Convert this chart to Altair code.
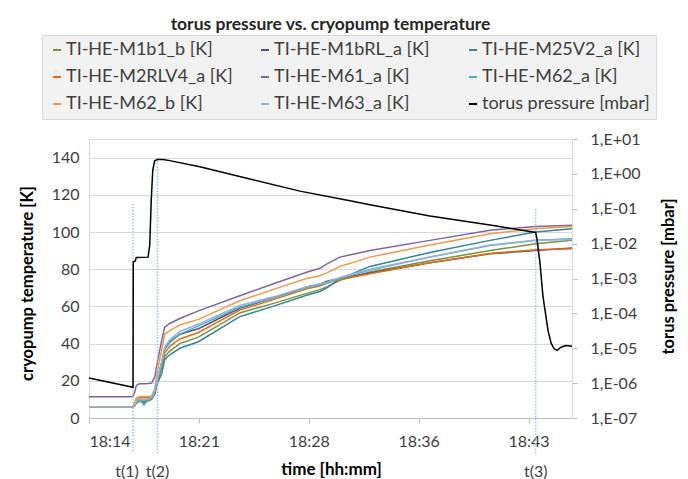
import json
import altair as alt
import pandas as pd

# ---------------- data ----------------
title_text = "torus pressure vs. cryopump temperature"

series_names = ["TI-HE-M1b1_b [K]", "TI-HE-M1bRL_a [K]", "TI-HE-M25V2_a [K]",
                "TI-HE-M2RLV4_a [K]", "TI-HE-M61_a [K]", "TI-HE-M62_a [K]",
                "TI-HE-M62_b [K]", "TI-HE-M63_a [K]", "torus pressure [mbar]"]
series_colors = ["#77933c", "#604a7b", "#31859c", "#e46c0a", "#8064a2",
                 "#4bacc6", "#f79646", "#95b3d7", "#000000"]

# time in minutes after 18:14
t_temp = [0, 2.87, 3.0, 3.1, 3.3, 3.6, 3.85, 4.11, 4.31, 4.50, 4.77, 4.96, 5.29,
          5.95, 7.17, 9.88, 12.04, 14.26, 15.13, 15.59, 16.44, 18.41, 22.34,
          26.28, 29.27, 31.65]

temp_M1b1_b = [6, 6, 6.5, 8, 9, 9, 9, 10, 13, 20, 27, 33, 36, 40, 43.5, 56.5, 61.5,
               67, 69, 70.5, 74, 78.5, 84.5, 90, 93.7, 95.5]
temp_M1bRL_a = [6, 6, 7, 9, 10, 10, 10, 11, 14, 22, 30, 37, 41, 45, 48, 59, 64.5,
                70.5, 72, 73.5, 75, 78, 83.5, 88.3, 90, 91.4]
temp_M25V2_a = [6, 6, 7, 9, 10, 8, 10, 11, 13, 19, 24, 31.5, 34, 37.5, 41, 54.5, 60,
                66, 68, 70, 74.8, 81.5, 89, 95.5, 100, 101.8]
temp_M2RLV4_a = [6, 6, 8, 10.5, 11, 11, 11, 11.5, 14, 21, 28, 35, 38.5, 42.5, 46, 58,
                 63.5, 69.5, 71, 72.5, 74.5, 77.5, 83.5, 88.5, 90.5, 91]
temp_M61_a = [11.4, 11.4, 14, 17.5, 18.4, 18.4, 18.5, 18.8, 22, 31, 42, 48.8, 50.8,
              53.5, 57.6, 65.7, 72, 78.4, 80.5, 82.9, 86.5, 90, 95.5, 100.9, 103, 103.6]
temp_M62_a = [6, 6, 7, 9.5, 10, 7, 9.5, 11, 14, 21, 29, 37, 40.5, 45, 49.5, 59.5,
              64.5, 70, 71.5, 72.5, 75, 79.5, 86.5, 92.8, 95.5, 96.4]
temp_M62_b = [6, 6, 8, 10.5, 11.5, 11.5, 11.5, 11.8, 16, 26, 37, 45, 47, 50, 53, 63,
              69, 75, 76.5, 78, 81.5, 86.5, 93, 99, 101.8, 103]
temp_M63_a = [6, 6, 7, 9, 10, 10, 10, 11.5, 15, 22, 30, 38, 42, 46.5, 50.5, 60.5,
              65, 70.5, 72, 73, 75.5, 80, 86.5, 93, 95.5, 96]

t_press = [0, 2.885, 2.90, 3.03, 3.10, 3.87, 3.98, 4.08, 4.18, 4.31, 4.51, 4.85,
           5.29, 7.26, 10.54, 13.82, 17.10, 18.41, 22.34, 26.28, 29.27, 29.36,
           29.55, 29.75, 30.08, 30.28, 30.47, 30.67, 30.93, 31.26, 31.65]
pressure = [1.4e-6, 7.6e-7, 3.0e-3, 3.2e-3, 4.0e-3, 4.1e-3, 9.1e-3, 0.18, 1.3, 2.4,
            2.6, 2.6, 2.4, 1.6, 0.71, 0.32, 0.17, 0.13, 0.062, 0.034, 0.021, 0.013,
            2.8e-3, 3.0e-4, 3.2e-5, 1.4e-5, 9.8e-6, 8.7e-6, 1.07e-5, 1.2e-5, 1.15e-5]

x_tick_values = [0, 7.2, 14.4, 21.6, 28.8]
x_tick_labels = ["18:14", "18:21", "18:28", "18:36", "18:43"]
x_max = 31.65
k_ticks = [0, 20, 40, 60, 80, 100, 120, 140]
p_ticks = [1e-7, 1e-6, 1e-5, 1e-4, 1e-3, 1e-2, 1e-1, 1, 10]
p_tick_labels = ["1,E-07", "1,E-06", "1,E-05", "1,E-04", "1,E-03", "1,E-02",
                 "1,E-01", "1,E+00", "1,E+01"]

event_labels = ["t(1)", "t(2)", "t(3)"]
event_times = [2.885, 4.485, 29.27]
event_top_K = [115, 140, 112.5]
event_bottom_K = [-19, -19, -20]
event_label_K = [-29, -29, -29]

# legend reads row by row in the reference: the legend grid is filled
# column by column, so the entries are listed column-wise here
legend_order = [0, 3, 6, 1, 4, 7, 2, 5, 8]

# ---------------- tables ----------------
temp_series = [temp_M1b1_b, temp_M1bRL_a, temp_M25V2_a, temp_M2RLV4_a,
               temp_M61_a, temp_M62_a, temp_M62_b, temp_M63_a]
rows = []
for name, vals in zip(series_names[:8], temp_series):
    for t, v in zip(t_temp, vals):
        rows.append({"series": name, "t": t, "K": v})
df_temp = pd.DataFrame(rows)
df_press = pd.DataFrame({"series": series_names[8], "t": t_press, "p": pressure})
df_events = pd.DataFrame({"label": event_labels, "t": event_times,
                          "top": event_top_K, "bottom": event_bottom_K,
                          "ly": event_label_K})

FONT = "Lato"
W, H = 483, 279

color_scale = alt.Scale(domain=[series_names[i] for i in legend_order],
                        range=[series_colors[i] for i in legend_order])
legend = alt.Legend(
    orient="none", legendX=-47, legendY=-104, columns=3, title=None,
    symbolType="stroke", symbolSize=64, symbolStrokeWidth=2,
    labelFont=FONT, labelFontSize=18, labelColor="#404040", labelOffset=0,
    labelLimit=400, fillColor="#f2f2f2", strokeColor="#d9d9d9", padding=6,
    rowPadding=9, columnPadding=22, gridAlign="all",
)

x_axis = alt.Axis(
    values=x_tick_values,
    labelExpr=f"{json.dumps(x_tick_labels)}[round(datum.value / 7.2)]",
    grid=False, tickSize=5, tickColor="#bfbfbf", domainColor="#bfbfbf",
    labelFont=FONT, labelFontSize=16, labelColor="#404040", labelPadding=10,
    labelOverlap=False,
    title="time [hh:mm]", titleFont=FONT, titleFontSize=17,
    titleFontWeight="bold", titleColor="#000000",
    titleX=242, titleY=51, titleBaseline="middle",
)
x_scale = alt.Scale(domain=[0, x_max], nice=False, zero=False)

y_axis = alt.Axis(
    values=k_ticks, grid=True, gridColor="#d9d9d9", ticks=False,
    domainColor="#d9d9d9", labelFont=FONT, labelFontSize=16,
    labelColor="#404040", labelPadding=10, labelOverlap=False,
    title="cryopump temperature [K]", titleFont=FONT, titleFontSize=16.5,
    titleFontWeight="bold", titleColor="#000000", titleAngle=270,
    titleX=-62, titleY=144, titleBaseline="middle",
)
y_scale = alt.Scale(domain=[0, 150], nice=False, zero=True)

temp_lines = alt.Chart(df_temp).mark_line(strokeWidth=1.5).encode(
    x=alt.X("t:Q", scale=x_scale, axis=x_axis),
    y=alt.Y("K:Q", scale=y_scale, axis=y_axis),
    color=alt.Color("series:N", scale=color_scale, legend=legend),
    detail="series:N",
)

rules = alt.Chart(df_events).mark_rule(
    color="#9dc3e6", strokeWidth=1.5, strokeDash=[1.5, 1.5], clip=False
).encode(
    x=alt.X("t:Q", scale=x_scale, axis=x_axis),
    y=alt.Y("top:Q", scale=y_scale, axis=y_axis),
    y2="bottom:Q",
)

labels_a = alt.Chart(df_events).transform_filter(
    alt.datum.label == "t(1)"
).mark_text(font=FONT, fontSize=16, color="#404040", dx=-6, clip=False).encode(
    x=alt.X("t:Q", scale=x_scale, axis=x_axis),
    y=alt.Y("ly:Q", scale=y_scale, axis=y_axis),
    text="label:N",
)
labels_b = alt.Chart(df_events).transform_filter(
    alt.datum.label != "t(1)"
).mark_text(font=FONT, fontSize=16, color="#404040", clip=False).encode(
    x=alt.X("t:Q", scale=x_scale, axis=x_axis),
    y=alt.Y("ly:Q", scale=y_scale, axis=y_axis),
    text="label:N",
)

press_line = alt.Chart(df_press).mark_line(strokeWidth=1.5).encode(
    x=alt.X("t:Q", scale=x_scale, axis=x_axis),
    y=alt.Y(
        "p:Q",
        scale=alt.Scale(type="log", domain=[1e-7, 10], nice=False),
        axis=alt.Axis(
            orient="right", values=p_ticks,
            labelExpr=f"{json.dumps(p_tick_labels)}[round(log(datum.value) / LN10) + 7]",
            grid=False, tickSize=5, tickColor="#bfbfbf", domainColor="#d9d9d9",
            labelFont=FONT, labelFontSize=16, labelColor="#404040",
            labelPadding=13, labelOverlap=False,
            title="torus pressure [mbar]", titleFont=FONT, titleFontSize=16.5,
            titleFontWeight="bold", titleColor="#000000", titleAngle=270,
            titleX=96, titleY=137, titleBaseline="middle",
        ),
    ),
    color=alt.Color("series:N", scale=color_scale, legend=legend),
)

inner = alt.layer(temp_lines, rules, labels_a, labels_b)

chart = alt.layer(inner, press_line).resolve_scale(y="independent").properties(
    width=W, height=H,
    title=alt.TitleParams(text=title_text, font=FONT, fontSize=17.5,
                          fontWeight="bold", color="#262626", anchor="middle",
                          offset=1),
    autosize=alt.AutoSizeParams(type="none"),
    padding={"left": 81, "top": 131, "right": 108, "bottom": 80},
).configure_view(stroke=None).configure(background="white")

chart.save("out.html", embed_options={"renderer": "svg", "actions": False})
